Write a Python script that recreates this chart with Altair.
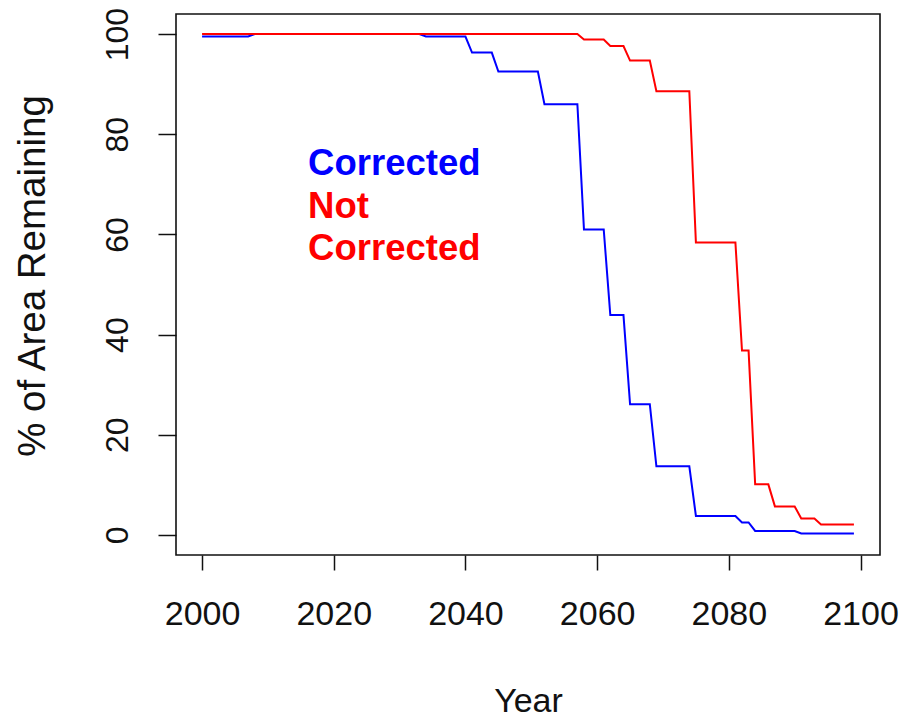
import altair as alt
import pandas as pd

# Projected share of habitat area remaining, one value per year
years = list(range(2000, 2100))

corrected = [
    99.5, 99.5, 99.5, 99.5, 99.5, 99.5, 99.5, 99.5, 100, 100,   # 2000s
    100, 100, 100, 100, 100, 100, 100, 100, 100, 100,           # 2010s
    100, 100, 100, 100, 100, 100, 100, 100, 100, 100,           # 2020s
    100, 100, 100, 100, 99.5, 99.5, 99.5, 99.5, 99.5, 99.5,     # 2030s
    99.5, 96.3, 96.3, 96.3, 96.3, 92.5, 92.5, 92.5, 92.5, 92.5, # 2040s
    92.5, 92.5, 86.0, 86.0, 86.0, 86.0, 86.0, 86.0, 61.0, 61.0, # 2050s
    61.0, 61.0, 43.9, 43.9, 43.9, 26.1, 26.1, 26.1, 26.1, 13.7, # 2060s
    13.7, 13.7, 13.7, 13.7, 13.7, 3.8, 3.8, 3.8, 3.8, 3.8,      # 2070s
    3.8, 3.8, 2.5, 2.5, 0.8, 0.8, 0.8, 0.8, 0.8, 0.8,           # 2080s
    0.8, 0.3, 0.3, 0.3, 0.3, 0.3, 0.3, 0.3, 0.3, 0.3,           # 2090s
]

not_corrected = [
    100, 100, 100, 100, 100, 100, 100, 100, 100, 100,           # 2000s
    100, 100, 100, 100, 100, 100, 100, 100, 100, 100,           # 2010s
    100, 100, 100, 100, 100, 100, 100, 100, 100, 100,           # 2020s
    100, 100, 100, 100, 100, 100, 100, 100, 100, 100,           # 2030s
    100, 100, 100, 100, 100, 100, 100, 100, 100, 100,           # 2040s
    100, 100, 100, 100, 100, 100, 100, 100, 98.9, 98.9,         # 2050s
    98.9, 98.9, 97.6, 97.6, 97.6, 94.7, 94.7, 94.7, 94.7, 88.6, # 2060s
    88.6, 88.6, 88.6, 88.6, 88.6, 58.4, 58.4, 58.4, 58.4, 58.4, # 2070s
    58.4, 58.4, 36.8, 36.8, 10.1, 10.1, 10.1, 5.7, 5.7, 5.7,    # 2080s
    5.7, 3.3, 3.3, 3.3, 2.1, 2.1, 2.1, 2.1, 2.1, 2.1,           # 2090s
]

x_ticks = [2000, 2020, 2040, 2060, 2080, 2100]
y_ticks = [0, 20, 40, 60, 80, 100]

# In-plot key, anchored in data coordinates
note_labels = ["Corrected", "Not", "Corrected"]
note_colors = ["#0000FF", "#FF0000", "#FF0000"]
note_year = [2016.1, 2016.1, 2016.1]
note_value = [71.8, 63.2, 54.8]

FONT = "Liberation Sans"

df = pd.DataFrame({
    "Year": years + years,
    "Area": corrected + not_corrected,
    "Series": ["Corrected"] * len(years) + ["Not Corrected"] * len(years),
})
notes = pd.DataFrame({
    "Year": note_year,
    "Area": note_value,
    "label": note_labels,
    "color": note_colors,
})

x_enc = alt.X(
    "Year:Q",
    scale=alt.Scale(domain=[1996.04, 2102.96], nice=False, zero=False),
    axis=alt.Axis(
        values=x_ticks, format="d", title="Year",
        domain=False, grid=False,
        tickSize=15, tickWidth=1.5, tickColor="#111",
        labelFont=FONT, labelFontSize=34, labelColor="#111", labelPadding=27,
        labelFlush=False, labelOverlap=False,
        titleFont=FONT, titleFontSize=34, titleFontWeight="normal", titleColor="#111",
        titleBaseline="alphabetic", titleY=156,
    ),
)
y_enc = alt.Y(
    "Area:Q",
    scale=alt.Scale(domain=[-4, 104], nice=False, zero=False),
    axis=alt.Axis(
        values=y_ticks, format="d", title="% of Area Remaining",
        domain=False, grid=False,
        tickSize=18, tickWidth=1.5, tickColor="#111",
        labelFont=FONT, labelFontSize=32, labelColor="#111",
        labelAngle=270, labelAlign="center", labelBaseline="alphabetic",
        labelPadding=31, labelFlush=False, labelOverlap=False,
        titleFont=FONT, titleFontSize=38.5, titleFontWeight="normal", titleColor="#111",
        titleAngle=270, titleAlign="center", titleBaseline="alphabetic",
        titleX=-132, titleY=261.5,
    ),
)

blue = alt.Chart(df).transform_filter(
    alt.datum.Series == "Corrected"
).mark_line(color="#0000FF", strokeWidth=2, interpolate="linear").encode(
    x=x_enc, y=y_enc
)

red = alt.Chart(df).transform_filter(
    alt.datum.Series == "Not Corrected"
).mark_line(color="#FF0000", strokeWidth=2, interpolate="linear").encode(
    x="Year:Q", y="Area:Q"
)

key = alt.Chart(notes).mark_text(
    align="left", baseline="alphabetic", font=FONT, fontSize=36.5, fontWeight="bold"
).encode(
    x="Year:Q", y="Area:Q", text="label:N", color=alt.Color("color:N", scale=None)
)

chart = alt.layer(blue, red, key).properties(
    width=704,
    height=541,
    padding={"left": 176, "top": 14, "right": 34, "bottom": 163},
    autosize=alt.AutoSizeParams(type="none"),
    background="white",
).configure_view(
    stroke="#111", strokeWidth=1.6
)

chart.save("out.html", embed_options={"renderer": "svg", "actions": False})
